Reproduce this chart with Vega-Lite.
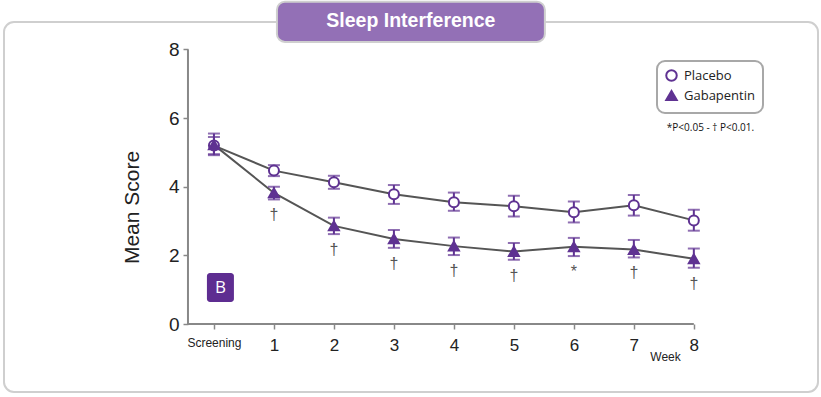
{
  "$schema": "https://vega.github.io/schema/vega-lite/v6.json",
  "width": 814,
  "height": 370,
  "autosize": {"type": "none"},
  "padding": {"left": 4, "top": 22, "right": 3, "bottom": 5},
  "background": "white",
  "config": {
    "view": {"stroke": "#cfcfcf", "strokeWidth": 2, "cornerRadius": 10},
    "font": "Liberation Sans",
    "legend": {
      "orient": "none", "legendX": 653, "legendY": 39,
      "strokeColor": "#a8a8a8", "strokeWidth": 2, "cornerRadius": 8, "padding": 8,
      "labelFontSize": 13, "labelFont": "Open Sans", "labelColor": "#222",
      "symbolStrokeWidth": 2, "symbolSize": 110, "rowPadding": 1, "labelOffset": 6
    }
  },
  "data": {
    "values": [
      {"week": 0, "group": "Placebo", "mean": 5.2, "lower": 4.95, "upper": 5.45, "sig": ""},
      {"week": 1, "group": "Placebo", "mean": 4.47, "lower": 4.31, "upper": 4.63, "sig": ""},
      {"week": 2, "group": "Placebo", "mean": 4.13, "lower": 3.94, "upper": 4.32, "sig": ""},
      {"week": 3, "group": "Placebo", "mean": 3.78, "lower": 3.5, "upper": 4.05, "sig": ""},
      {"week": 4, "group": "Placebo", "mean": 3.55, "lower": 3.3, "upper": 3.83, "sig": ""},
      {"week": 5, "group": "Placebo", "mean": 3.43, "lower": 3.13, "upper": 3.74, "sig": ""},
      {"week": 6, "group": "Placebo", "mean": 3.26, "lower": 2.96, "upper": 3.57, "sig": ""},
      {"week": 7, "group": "Placebo", "mean": 3.46, "lower": 3.16, "upper": 3.76, "sig": ""},
      {"week": 8, "group": "Placebo", "mean": 3.02, "lower": 2.72, "upper": 3.33, "sig": ""},
      {"week": 0, "group": "Gabapentin", "mean": 5.22, "lower": 4.92, "upper": 5.55, "sig": ""},
      {"week": 1, "group": "Gabapentin", "mean": 3.82, "lower": 3.63, "upper": 4.0, "sig": "†"},
      {"week": 2, "group": "Gabapentin", "mean": 2.86, "lower": 2.62, "upper": 3.1, "sig": "†"},
      {"week": 3, "group": "Gabapentin", "mean": 2.48, "lower": 2.22, "upper": 2.74, "sig": "†"},
      {"week": 4, "group": "Gabapentin", "mean": 2.27, "lower": 2.01, "upper": 2.52, "sig": "†"},
      {"week": 5, "group": "Gabapentin", "mean": 2.11, "lower": 1.87, "upper": 2.36, "sig": "†"},
      {"week": 6, "group": "Gabapentin", "mean": 2.25, "lower": 1.98, "upper": 2.51, "sig": "*"},
      {"week": 7, "group": "Gabapentin", "mean": 2.17, "lower": 1.94, "upper": 2.45, "sig": "†"},
      {"week": 8, "group": "Gabapentin", "mean": 1.9, "lower": 1.64, "upper": 2.2, "sig": "†"}
    ]
  },
  "encoding": {
    "x": {
      "field": "week", "type": "quantitative",
      "scale": {"domain": [-3.5, 10.07], "nice": false, "zero": false},
      "axis": {
        "orient": "bottom", "offset": -68, "domain": false, "grid": false,
        "values": [0, 1, 2, 3, 4, 5, 6, 7, 8],
        "labelExpr": "datum.value == 0 ? 'Screening' : datum.value",
        "labelFontSize": {"condition": {"test": "datum.value == 0", "value": 12}, "value": 17},
        "labelColor": "#222", "labelPadding": 8, "labelFont": "Liberation Sans",
        "tickColor": "#888", "tickWidth": 1.5, "tickSize": 5,
        "title": "Week", "titleFontSize": 12, "titleFontWeight": "normal", "titleColor": "#222",
        "titleX": 661, "titleY": 32, "titleAlign": "center", "titleBaseline": "middle",
        "titleFont": "Liberation Sans"
      }
    },
    "y": {
      "field": "mean", "type": "quantitative",
      "scale": {"domain": [-1.98, 8.8], "nice": false, "zero": false},
      "axis": {
        "orient": "left", "offset": -184, "domain": false, "grid": false,
        "values": [0, 2, 4, 6, 8],
        "labelFontSize": 19, "labelColor": "#222", "labelPadding": 4,
        "tickColor": "#888", "tickWidth": 1.5, "tickSize": 5,
        "title": "Mean Score", "titleFontSize": 21, "titleFontWeight": "normal",
        "titleColor": "#222", "titlePadding": 26
      }
    }
  },
  "layer": [
    {
      "transform": [{"filter": "datum.week == 0 && datum.group == 'Placebo'"}],
      "mark": {"type": "rule", "color": "#888", "strokeWidth": 2},
      "encoding": {
        "x": {"datum": -0.433, "type": "quantitative"},
        "y": {"datum": 0, "type": "quantitative"},
        "y2": {"datum": 8}
      }
    },
    {
      "transform": [{"filter": "datum.week == 0 && datum.group == 'Placebo'"}],
      "mark": {"type": "rule", "color": "#888", "strokeWidth": 2},
      "encoding": {
        "x": {"datum": -0.433, "type": "quantitative"},
        "x2": {"datum": 8},
        "y": {"datum": 0, "type": "quantitative"}
      }
    },
    {
      "mark": {"type": "line", "color": "#555", "strokeWidth": 2},
      "encoding": {"detail": {"field": "group"}}
    },
    {
      "mark": {"type": "errorbar", "ticks": {"size": 12, "color": "#5f3292", "thickness": 2}, "rule": {"color": "#5f3292", "strokeWidth": 2}, "color": "#5f3292", "thickness": 2},
      "encoding": {
        "y": {"field": "lower", "type": "quantitative"},
        "y2": {"field": "upper"},
        "detail": {"field": "group"}
      }
    },
    {
      "mark": {"type": "point", "filled": true, "strokeWidth": 2, "opacity": 1, "size": 100},
      "encoding": {
        "shape": {
          "field": "group", "type": "nominal",
          "scale": {"domain": ["Placebo", "Gabapentin"], "range": ["circle", "triangle-up"]},
          "legend": {"title": null, "labelExpr": "datum.label + '\u00a0\u00a0'"}
        },
        "fill": {
          "field": "group", "type": "nominal",
          "scale": {"domain": ["Placebo", "Gabapentin"], "range": ["white", "#5f3292"]},
          "legend": {"title": null, "labelExpr": "datum.label + '\u00a0\u00a0'"}
        },
        "stroke": {
          "field": "group", "type": "nominal",
          "scale": {"domain": ["Placebo", "Gabapentin"], "range": ["#5f3292", "#5f3292"]},
          "legend": {"title": null, "labelExpr": "datum.label + '\u00a0\u00a0'"}
        }
      }
    },
    {
      "mark": {"type": "text", "dy": 16, "baseline": "middle", "fontSize": 16, "color": "#555", "fill": "#555"},
      "encoding": {
        "y": {"field": "lower", "type": "quantitative"},
        "text": {"field": "sig"}
      }
    },
    {
      "transform": [{"filter": "datum.week == 0 && datum.group == 'Placebo'"}],
      "mark": {"type": "rect", "fill": "#9370b6", "stroke": "#cfcfcf", "strokeWidth": 2, "cornerRadius": 8},
      "encoding": {
        "x": {"datum": 1.05, "type": "quantitative"},
        "x2": {"datum": 5.517},
        "y": {"datum": 9.39, "type": "quantitative"},
        "y2": {"datum": 8.22}
      }
    },
    {
      "transform": [{"filter": "datum.week == 0 && datum.group == 'Placebo'"}],
      "mark": {"type": "text", "text": "Sleep Interference", "fill": "white", "fontSize": 19.5, "fontWeight": "bold", "font": "Liberation Sans", "align": "center", "baseline": "middle"},
      "encoding": {
        "x": {"datum": 3.283, "type": "quantitative"},
        "y": {"datum": 8.84, "type": "quantitative"}
      }
    },
    {
      "transform": [{"filter": "datum.week == 0 && datum.group == 'Placebo'"}],
      "mark": {"type": "rect", "fill": "#5e2d91", "cornerRadius": 3},
      "encoding": {
        "x": {"datum": -0.117, "type": "quantitative"},
        "x2": {"datum": 0.333},
        "y": {"datum": 1.487, "type": "quantitative"},
        "y2": {"datum": 0.641}
      }
    },
    {
      "transform": [{"filter": "datum.week == 0 && datum.group == 'Placebo'"}],
      "mark": {"type": "text", "text": "B", "fill": "white", "fontSize": 17, "font": "Open Sans", "align": "center", "baseline": "middle"},
      "encoding": {
        "x": {"datum": 0.108, "type": "quantitative"},
        "y": {"datum": 1.064, "type": "quantitative"}
      }
    },
    {
      "transform": [{"filter": "datum.week == 0 && datum.group == 'Placebo'"}],
      "mark": {"type": "text", "text": "*P<0.05 -  † P<0.01.", "fill": "#111", "fontSize": 10, "font": "Open Sans", "align": "left", "baseline": "middle"},
      "encoding": {
        "x": {"datum": 7.55, "type": "quantitative"},
        "y": {"datum": 5.71, "type": "quantitative"}
      }
    }
  ]
}
